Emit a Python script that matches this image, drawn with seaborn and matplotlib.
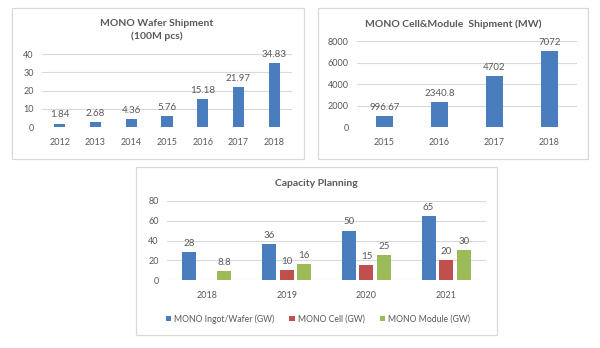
import matplotlib
matplotlib.use("Agg")
import matplotlib.pyplot as plt
from matplotlib.patches import Rectangle
import seaborn as sns
import pandas as pd

# ---- data ----
wafer_years = ["2012", "2013", "2014", "2015", "2016", "2017", "2018"]
wafer_values = [1.84, 2.68, 4.36, 5.76, 15.18, 21.97, 34.83]

cm_years = ["2015", "2016", "2017", "2018"]
cm_values = [996.67, 2340.8, 4702, 7072]

cap_years = ["2018", "2019", "2020", "2021"]
cap_series = ["MONO Ingot/Wafer (GW)", "MONO Cell (GW)", "MONO Module (GW)"]
cap_wafer = [28, 36, 50, 65]
cap_cell = [None, 10, 15, 20]
cap_module = [8.8, 16, 25, 30]

BLUE, RED, GREEN = "#4A7DBE", "#C0504D", "#9BBB59"
TXT = "#595959"
GRID = "#D9D9D9"

sns.set_theme(style="white")
plt.rcParams["font.family"] = ["Lato", "DejaVu Sans"]

W, H = 600, 348
fig = plt.figure(figsize=(W / 100, H / 100), dpi=100)
fig.patch.set_facecolor("white")


def fx(x):
    return x / W


def fy(y):
    return 1 - y / H


def panel(x0, y0, x1, y1):
    fig.patches.append(Rectangle((fx(x0), fy(y1)), fx(x1 - x0), (y1 - y0) / H,
                                 transform=fig.transFigure, fill=False,
                                 edgecolor=GRID, lw=0.9, zorder=0))


def axes(x0, ytop, x1, ybot):
    return fig.add_axes([fx(x0), fy(ybot), fx(x1 - x0), (ybot - ytop) / H])


def style(ax, ymax, step):
    ax.set_ylim(0, ymax)
    ax.set_yticks(list(range(0, ymax + 1, step)))
    for s in ax.spines.values():
        s.set_visible(False)
    ax.grid(axis="y", color=GRID, lw=0.8)
    ax.set_axisbelow(True)
    ax.tick_params(axis="both", length=0, labelsize=6.5, colors=TXT)
    ax.tick_params(axis="x", pad=8)
    ax.tick_params(axis="y", pad=6)
    ax.set_xlabel("")
    ax.set_ylabel("")
    ax.set_facecolor("none")


panel(12, 8, 304, 159)
panel(318, 8, 588, 159)
panel(136, 167, 497, 335)

# Panel 1
ax1 = axes(42, 54, 292, 127)
sns.barplot(x=wafer_years, y=wafer_values, color=BLUE, saturation=1,
            width=0.31, linewidth=0, ax=ax1)
style(ax1, 40, 10)
for c in ax1.containers:
    ax1.bar_label(c, fmt="%g", padding=3, fontsize=7, color=TXT)
fig.text(fx(157), fy(30), "MONO Wafer Shipment\n(100M pcs)", ha="center",
         va="center", fontsize=7.5, fontweight="bold", color=TXT,
         linespacing=1.4)

# Panel 2
ax2 = axes(357, 41, 577, 127)
sns.barplot(x=cm_years, y=cm_values, color=BLUE, saturation=1,
            width=0.31, linewidth=0, ax=ax2)
style(ax2, 8000, 2000)
for c in ax2.containers:
    ax2.bar_label(c, fmt="%g", padding=3, fontsize=7, color=TXT)
fig.text(fx(453), fy(24), "MONO Cell&Module  Shipment (MW)", ha="center",
         va="center", fontsize=7.5, fontweight="bold", color=TXT)

# Panel 3
rows = []
for name, vals in zip(cap_series, [cap_wafer, cap_cell, cap_module]):
    for yr, v in zip(cap_years, vals):
        if v is not None:
            rows.append({"year": yr, "series": name, "value": v})
df = pd.DataFrame(rows)
ax3 = axes(167, 201, 486, 280)
sns.barplot(data=df, x="year", y="value", hue="series", hue_order=cap_series,
            order=cap_years, palette=[BLUE, RED, GREEN], saturation=1,
            width=0.66, gap=0.2, linewidth=0, ax=ax3)
style(ax3, 80, 20)
for c in ax3.containers:
    ax3.bar_label(c, fmt="%g", padding=3, fontsize=7, color=TXT)
leg = ax3.get_legend()
handles = leg.legend_handles
labels = [t.get_text() for t in leg.get_texts()]
leg.remove()
ax3.legend(handles, labels, loc="center", bbox_to_anchor=(fx(318), fy(319)),
           bbox_transform=fig.transFigure, ncol=3, frameon=False,
           fontsize=6.2, labelcolor=TXT, handlelength=0.6, handleheight=0.6,
           handletextpad=0.4, columnspacing=1.7)
fig.text(fx(316), fy(183), "Capacity Planning", ha="center", va="center",
         fontsize=7.5, fontweight="bold", color=TXT)

fig.savefig("out.png", dpi=100, facecolor="white")
